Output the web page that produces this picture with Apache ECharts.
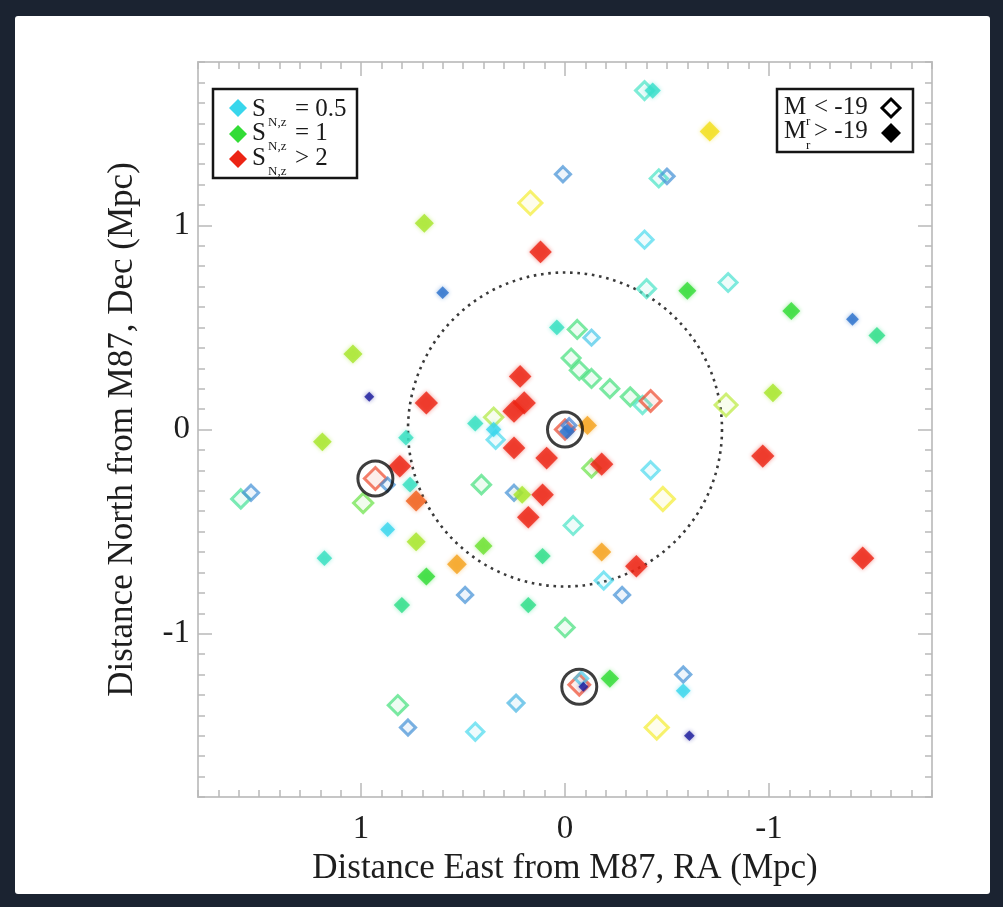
<!DOCTYPE html>
<html>
<head>
<meta charset="utf-8">
<script src="https://cdn.jsdelivr.net/npm/echarts@6/dist/echarts.min.js"></script>
<style>
html,body{margin:0;padding:0;background:#1b2331;}
#panel{position:absolute;left:15px;top:16px;width:975px;height:878px;background:#ffffff;border-radius:3px;}
#c{position:absolute;left:0;top:0;width:1003px;height:907px;}
</style>
</head>
<body>
<div id="panel"></div>
<div id="c"></div>
<script>
// ---------- DATA ----------
// Bright galaxies (M_r < -19): open diamonds
const openX   = [-0.39, 0.01,-0.46,-0.50, 0.17,-0.39,-0.40,-0.80,-0.06,-0.13,-0.03,-0.07,-0.13,-0.22,-0.32,-0.38,-0.42,-0.79, 0.35, 0.34, 0.00, 0.93, 0.87, 0.99, 1.59, 1.54, 0.41, 0.25,-0.13,-0.42,-0.48,-0.04,-0.19,-0.28, 0.49, 0.00,-0.07,-0.08,-0.58, 0.82, 0.77, 0.44, 0.24,-0.45,-0.02];
const openY   = [ 1.66, 1.25, 1.23, 1.24, 1.11, 0.93, 0.69, 0.72, 0.49, 0.45, 0.35, 0.29, 0.25, 0.20, 0.16, 0.12, 0.14, 0.12, 0.06,-0.05, 0.00,-0.24,-0.27,-0.36,-0.34,-0.31,-0.27,-0.31,-0.19,-0.20,-0.34,-0.47,-0.74,-0.81,-0.81,-0.97,-1.25,-1.22,-1.20,-1.35,-1.46,-1.48,-1.34,-1.46, 0.02];
const openSN  = [ 0.70, 0.30, 0.70, 0.30, 1.60, 0.50, 0.70, 0.65, 0.90, 0.45, 0.90, 0.90, 0.90, 0.90, 0.90, 0.70, 2.40, 1.35, 1.30, 0.50, 2.40, 2.40, 0.30, 1.10, 0.85, 0.30, 0.90, 0.30, 1.10, 0.50, 1.60, 0.70, 0.50, 0.30, 0.30, 0.90, 2.40, 0.45, 0.30, 0.90, 0.30, 0.50, 0.40, 1.60, 0.25];
const openMag = [-20.5,-19.8,-20.3,-19.6,-21.8,-20.3,-20.5,-20.5,-20.5,-19.8,-20.5,-20.5,-20.5,-20.5,-20.5,-20.3,-21.2,-21.5,-20.6,-20.3,-20.8,-21.5,-19.3,-20.8,-20.6,-19.8,-20.6,-19.8,-20.4,-20.3,-21.8,-20.5,-20.3,-19.8,-19.8,-20.6,-21.2,-19.2,-19.8,-20.8,-19.8,-20.3,-20.0,-21.8,-19.4];

// Faint galaxies (M_r > -19): filled diamonds
const fillX   = [-0.43,-0.71, 0.69, 0.12, 0.60,-0.60,-1.11,-1.41,-1.53, 1.04, 0.96, 0.68, 0.04, 0.22, 0.20, 0.25, 0.44, 0.35, 0.25, 0.09,-0.11,-0.18,-1.02,-0.97, 1.19, 0.78, 0.81, 0.76, 0.73, 0.21, 0.11, 0.18, 0.87, 1.18, 0.73, 0.53, 0.68, 0.80, 0.40, 0.11, 0.18,-0.18,-0.35,-1.46,-0.22,-0.58,-0.61,-0.01,-0.09];
const fillY   = [ 1.66, 1.46, 1.01, 0.87, 0.67, 0.68, 0.58, 0.54, 0.46, 0.37, 0.16, 0.13, 0.50, 0.26, 0.13, 0.09, 0.03, 0.00,-0.09,-0.14, 0.02,-0.17, 0.18,-0.13,-0.06,-0.04,-0.18,-0.27,-0.35,-0.32,-0.32,-0.43,-0.49,-0.63,-0.55,-0.66,-0.72,-0.86,-0.57,-0.62,-0.86,-0.60,-0.67,-0.63,-1.22,-1.28,-1.50,-0.01,-1.26];
const fillSN  = [ 0.65, 1.65, 1.30, 2.50, 0.25, 1.00, 1.00, 0.25, 0.85, 1.30, 0.05, 2.50, 0.70, 2.50, 2.50, 2.50, 0.70, 0.50, 2.50, 2.50, 1.90, 2.50, 1.30, 2.50, 1.30, 0.70, 2.50, 0.70, 2.15, 1.30, 2.50, 2.50, 0.50, 0.70, 1.30, 1.90, 1.00, 0.85, 1.15, 0.85, 0.85, 1.90, 2.50, 2.50, 1.00, 0.50, 0.05, 0.25, 0.05];
const fillMag = [-16.8,-17.9,-17.6,-18.6,-15.8,-17.3,-17.3,-15.8,-17.0,-17.6,-15.0,-18.8,-16.6,-18.6,-18.8,-18.8,-16.8,-16.6,-18.6,-18.6,-17.6,-18.8,-17.5,-18.8,-17.5,-16.6,-18.6,-16.6,-18.2,-17.3,-18.6,-18.6,-16.4,-16.6,-17.6,-17.8,-17.3,-16.8,-17.3,-16.8,-16.8,-17.6,-18.6,-18.8,-17.4,-16.4,-15.2,-16.6,-15.0];

// Circled galaxies
const circX = [0.00, 0.93, -0.07];
const circY = [0.00, -0.24, -1.26];

// Dotted circle (centre x, centre y, radius in Mpc)
const dottedCircle = [[0, 0, 0.77]];

// Axis labels
const majorTicks = [-1, 0, 1];
const xTitle = 'Distance East from M87, RA (Mpc)';
const yTitle = 'Distance North from M87, Dec (Mpc)';

// ---------- STYLE HELPERS ----------
const stops = [
  [0.05,[28,28,156]],[0.25,[42,112,204]],[0.5,[56,214,236]],[0.7,[54,224,192]],
  [0.85,[48,222,138]],[1.0,[50,220,54]],[1.3,[168,230,44]],[1.6,[242,234,28]],
  [1.9,[245,162,30]],[2.15,[240,96,28]],[2.5,[236,36,20]]
];
function snRGB(v){
  if (v <= stops[0][0]) return stops[0][1];
  for (let i=1;i<stops.length;i++){
    if (v <= stops[i][0]){
      const a=stops[i-1], b=stops[i], t=(v-a[0])/(b[0]-a[0]);
      return a[1].map((c,k)=>Math.round(c+(b[1][k]-c)*t));
    }
  }
  return stops[stops.length-1][1];
}
const rgb = (c,a)=> a===undefined ? `rgb(${c[0]},${c[1]},${c[2]})` : `rgba(${c[0]},${c[1]},${c[2]},${a})`;
const pale = (c,f)=> c.map(v=>Math.round(v+(255-v)*f));
const openSize = m => 12 + (-19 - m) * 4;
const fillSize = m => 10 + (-15 - m) * 3.5;

const minorTicks = [];
for (let i=-18;i<=18;i++) minorTicks.push(i/10);

const serif = "'Liberation Serif','Times New Roman',serif";
const tickCol = '#b9b9b9';

function mkAxis(pos, ticks, len, extra){
  return Object.assign({
    type:'value', min:-1.8, max:1.8, position:pos,
    splitLine:{show:false}, axisLine:{show:false, onZero:false},
    axisLabel:{show:false},
    axisTick:{show:true, inside:true, length:len, customValues:ticks, lineStyle:{color:tickCol,width:1.5}}
  }, extra||{});
}

const xLabelAxis = mkAxis('bottom', minorTicks, 7, {
  inverse:true,
  axisLabel:{show:true, customValues:majorTicks, margin:16, fontFamily:serif, fontSize:33, color:'#1e1e1e',
             formatter:v=>String(v)},
  name:xTitle, nameLocation:'middle', nameGap:50,
  nameTextStyle:{fontFamily:serif, fontSize:35, color:'#1e1e1e'}
});
const yLabelAxis = mkAxis('left', minorTicks, 7, {
  axisLabel:{show:true, customValues:majorTicks, margin:8, fontFamily:serif, fontSize:33, color:'#1e1e1e',
             formatter:v=>String(v)},
  name:yTitle, nameLocation:'middle', nameGap:58,
  nameTextStyle:{fontFamily:serif, fontSize:35, color:'#1e1e1e'}
});

const openData = openX.map((x,i)=>{
  const c = pale(snRGB(openSN[i]),0.12);
  return {value:[x,openY[i]], symbolSize:openSize(openMag[i]),
          itemStyle:{color:rgb(c,0.12), borderColor:rgb(c,0.9), borderWidth:3}};
});
const fillData = fillX.map((x,i)=>{
  const c = snRGB(fillSN[i]);
  return {value:[x,fillY[i]], symbolSize:fillSize(fillMag[i]),
          itemStyle:{color:rgb(c), shadowBlur:4, shadowColor:rgb(c,0.6)}};
});

function diamond(cx,cy,h){ return [[cx,cy-h],[cx+h,cy],[cx,cy+h],[cx-h,cy]]; }
// baseline-positioned text (descent of serif ≈ 0.22 em)
const txt = (x,base,s,size)=>({type:'text', x:x, y:base+Math.round(size*0.22), z:100,
  style:{text:s, font:`${size}px ${serif}`, fill:'#1a1a1a', verticalAlign:'bottom'}});
const sub = (x,top,s,size)=>({type:'text', x:x, y:top, z:100,
  style:{text:s, font:`${size}px ${serif}`, fill:'#1a1a1a', verticalAlign:'top'}});

const chart = echarts.init(document.getElementById('c'), null, {renderer:'canvas'});
chart.setOption({
  backgroundColor:'transparent',
  animation:false,
  grid:{left:198, top:62, width:734, height:735, show:true, borderColor:'#c6c6c6', borderWidth:2, backgroundColor:'transparent'},
  xAxis:[
    xLabelAxis,
    mkAxis('bottom', majorTicks, 14, {inverse:true}),
    mkAxis('top', minorTicks, 7, {inverse:true}),
    mkAxis('top', majorTicks, 14, {inverse:true})
  ],
  yAxis:[
    yLabelAxis,
    mkAxis('left', majorTicks, 14),
    mkAxis('right', minorTicks, 7),
    mkAxis('right', majorTicks, 14)
  ],
  series:[
    {type:'custom', coordinateSystem:'cartesian2d', silent:true, z:1, data:dottedCircle,
     renderItem:(p,api)=>{
       const c = api.coord([api.value(0),api.value(1)]);
       const s = api.size([api.value(2),api.value(2)]);
       return {type:'circle', shape:{cx:c[0],cy:c[1],r:Math.abs(s[0])},
               style:{fill:'none', stroke:'#3a3a3a', lineWidth:2.6, lineDash:[2.6,4.7]}};
     }},
    {type:'scatter', name:'bright', symbol:'diamond', z:3, data:openData},
    {type:'scatter', name:'faint', symbol:'diamond', z:4, data:fillData},
    {type:'scatter', name:'circled', symbol:'circle', symbolSize:35, z:5,
     data:circX.map((x,i)=>[x,circY[i]]),
     itemStyle:{color:'rgba(0,0,0,0)', borderColor:'#0e0e0e', borderWidth:3}}
  ],
  graphic:[
    // legend 1
    {type:'rect', z:99, shape:{x:213,y:89,width:144,height:89}, style:{fill:'#fff', stroke:'#151515', lineWidth:2.5}},
    {type:'polygon', z:100, shape:{points:diamond(238,108,9)}, style:{fill:rgb(snRGB(0.5))}},
    {type:'polygon', z:100, shape:{points:diamond(238,134,9)}, style:{fill:rgb(snRGB(1.0))}},
    {type:'polygon', z:100, shape:{points:diamond(238,159,9)}, style:{fill:rgb(snRGB(2.5))}},
    txt(252,116,'S',25), sub(268,116,'N,z',13), txt(295,116,'= 0.5',25),
    txt(252,140,'S',25), sub(268,140,'N,z',13), txt(295,140,'= 1',25),
    txt(252,165,'S',25), sub(268,165,'N,z',13), txt(295,165,'> 2',25),
    // legend 2
    {type:'rect', z:99, shape:{x:777,y:89,width:136,height:63}, style:{fill:'#fff', stroke:'#151515', lineWidth:2.5}},
    txt(784,114,'M',25), sub(806,115,'r',13), txt(814,114,'< -19',25),
    txt(784,138,'M',25), sub(806,139,'r',13), txt(814,138,'> -19',25),
    {type:'polygon', z:100, shape:{points:diamond(891,108,9)}, style:{fill:'#fff', stroke:'#000', lineWidth:3}},
    {type:'polygon', z:100, shape:{points:diamond(891,133,10)}, style:{fill:'#000'}}
  ]
});
</script>
</body>
</html>
